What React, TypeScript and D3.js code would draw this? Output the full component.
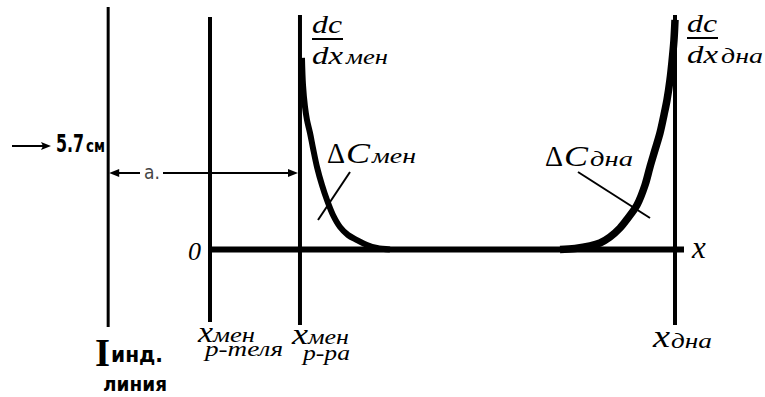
import React from "react";
import * as d3 from "d3";

// Positions (along the cell) of the vertical reference lines
const lineKeys = ["indicator", "solventMeniscus", "solutionMeniscus", "bottom"];
const lineX = [-21.9, 0, 19.35, 100];

// Concentration gradient dc/dx near the meniscus
const meniscusX = [19.78, 20.0, 20.43, 20.86, 21.51, 22.15, 23.01, 24.09, 25.16, 26.45, 27.96, 29.68, 31.61, 33.76, 35.91, 38.71];
const meniscusY = [83.3, 71.5, 62.0, 56.3, 50.65, 44.1, 35.9, 28.0, 21.5, 15.0, 9.8, 6.3, 4.1, 1.96, 0.65, 0];

// Concentration gradient dc/dx near the cell bottom
const bottomX = [75.27, 78.49, 81.72, 83.87, 86.02, 88.17, 89.89, 91.83, 93.55, 94.62, 95.7, 96.77, 97.63, 98.28, 98.92, 99.35, 99.78, 100];
const bottomY = [0, 0.43, 1.52, 2.83, 5.43, 9.35, 13.7, 19.35, 28.0, 35.9, 43.3, 50.65, 58.5, 65.0, 73.7, 81.5, 91.1, 99.8];

const W = 765;
const H = 397;

const x = d3.scaleLinear().domain([0, 100]).range([210, 675]);
const y = d3.scaleLinear().domain([0, 100]).range([249.5, 19.5]);

const lineTop = [7, 17, 15, 15];
const lineBottom = [327, 322, 325, 325];
const lineWidth = [3, 4, 4, 4];

const serif = "'Liberation Serif', 'Times New Roman', serif";
const hand = "'DejaVu Sans Condensed', 'DejaVu Sans', sans-serif";

const curve = d3
  .line<[number, number]>()
  .x((d) => x(d[0]))
  .y((d) => y(d[1]))
  .curve(d3.curveCatmullRom.alpha(0.5));

type Part = { t: string; x: number; y: number; s: number; w?: number; italic?: boolean };

// One text element built from positioned runs (symbol + subscript)
function Label({
  parts,
  family = serif,
  bold = false,
  fill = "#000",
}: {
  parts: Part[];
  family?: string;
  bold?: boolean;
  fill?: string;
}) {
  return (
    <text fontFamily={family} fontWeight={bold ? "bold" : "normal"} fill={fill}>
      {parts.map((p, i) => (
        <tspan
          key={i}
          x={p.x}
          y={p.y}
          fontSize={p.s}
          fontStyle={p.italic === false ? "normal" : "italic"}
          textLength={p.w}
          lengthAdjust={p.w ? "spacingAndGlyphs" : undefined}
        >
          {p.t}
        </tspan>
      ))}
    </text>
  );
}

function Fraction({ left, sub, top }: { left: number; sub: string; top: number }) {
  return (
    <g>
      <Label parts={[{ t: "dc", x: left, y: top + 15, s: 26, w: 30 }]} />
      <line x1={left} x2={left + 31} y1={top + 21} y2={top + 21} stroke="#000" strokeWidth={2} />
      <Label
        parts={[
          { t: "dx", x: left, y: top + 46, s: 26, w: 31 },
          { t: sub, x: left + 34, y: top + 46, s: 22, w: 42 },
        ]}
      />
    </g>
  );
}

export default function App() {
  const meniscus: [number, number][] = meniscusX.map((v, i) => [v, meniscusY[i]]);
  const bottom: [number, number][] = bottomX.map((v, i) => [v, bottomY[i]]);
  const xInd = x(lineX[0]);
  const xSol = x(lineX[2]);
  const arrowY = 173;

  return (
    <svg
      width={W}
      height={H}
      viewBox={`0 0 ${W} ${H}`}
      style={{ position: "absolute", left: 0, top: 0, background: "#fff" }}
    >
      <rect width={W} height={H} fill="#fff" />

      {/* vertical reference lines */}
      {lineKeys.map((k, i) => (
        <line
          key={k}
          x1={x(lineX[i])}
          x2={x(lineX[i])}
          y1={lineTop[i]}
          y2={lineBottom[i]}
          stroke="#000"
          strokeWidth={lineWidth[i]}
        />
      ))}

      {/* x axis */}
      <line x1={x(0)} x2={684} y1={y(0)} y2={y(0)} stroke="#000" strokeWidth={6} />

      {/* gradient curves */}
      <path d={curve(meniscus) ?? ""} fill="none" stroke="#000" strokeWidth={6} />
      <path d={curve(bottom) ?? ""} fill="none" stroke="#000" strokeWidth={7.5} />

      {/* leader lines */}
      <line x1={350} y1={172} x2={318} y2={220} stroke="#000" strokeWidth={2} />
      <line x1={578} y1={172} x2={650} y2={218} stroke="#000" strokeWidth={2} />

      {/* distance a between the indicator line and the solution meniscus */}
      <line x1={xInd + 8} x2={140} y1={arrowY} y2={arrowY} stroke="#000" strokeWidth={2} />
      <line x1={163} x2={xSol - 9} y1={arrowY} y2={arrowY} stroke="#000" strokeWidth={2} />
      <path d={`M${xInd + 1},${arrowY} L${xInd + 11},${arrowY - 4} L${xInd + 11},${arrowY + 4} Z`} fill="#000" />
      <path d={`M${xSol - 2},${arrowY} L${xSol - 12},${arrowY - 4} L${xSol - 12},${arrowY + 4} Z`} fill="#000" />
      <Label family={hand} fill="#444" parts={[{ t: "a.", x: 144, y: 179, s: 19, italic: false }]} />

      {/* 5.7 cm mark */}
      <line x1={12} x2={44} y1={146} y2={146} stroke="#000" strokeWidth={2} />
      <path d="M51,146 L41,142 L43,146 L41,150 Z" fill="#000" />
      <Label
        family={hand}
        bold
        parts={[
          { t: "5.7", x: 56, y: 152, s: 25, w: 28, italic: false },
          { t: "см", x: 86, y: 152, s: 17, w: 19, italic: false },
        ]}
      />

      {/* axis labels */}
      <Label parts={[{ t: "0", x: 188, y: 260, s: 26 }]} />
      <Label parts={[{ t: "x", x: 692, y: 258, s: 31 }]} />

      <Fraction left={312} top={18} sub="мен" />
      <Fraction left={687} top={17} sub="дна" />

      <Label
        parts={[
          { t: "Δ", x: 327, y: 163, s: 30, w: 18, italic: false },
          { t: "C", x: 346, y: 163, s: 30, w: 24 },
          { t: "мен", x: 372, y: 163, s: 22, w: 44 },
        ]}
      />
      <Label
        parts={[
          { t: "Δ", x: 545, y: 166, s: 30, w: 18, italic: false },
          { t: "C", x: 564, y: 166, s: 30, w: 24 },
          { t: "дна", x: 590, y: 166, s: 22, w: 43 },
        ]}
      />

      {/* bottom labels */}
      <Label
        parts={[
          { t: "x", x: 198, y: 342, s: 29, w: 15 },
          { t: "мен", x: 213, y: 342, s: 22, w: 42 },
          { t: "р-теля", x: 205, y: 356, s: 22, w: 78 },
        ]}
      />
      <Label
        parts={[
          { t: "x", x: 292, y: 344, s: 29, w: 16 },
          { t: "мен", x: 308, y: 344, s: 22, w: 41 },
          { t: "р-ра", x: 303, y: 360, s: 22, w: 47 },
        ]}
      />
      <Label
        parts={[
          { t: "x", x: 653, y: 347, s: 31, w: 17 },
          { t: "дна", x: 671, y: 348, s: 22, w: 41 },
        ]}
      />

      {/* indicator line label */}
      <Label
        bold
        parts={[{ t: "I", x: 95, y: 366, s: 40, w: 15, italic: false }]}
      />
      <Label
        family={hand}
        bold
        parts={[
          { t: "инд.", x: 111, y: 362, s: 22, w: 52, italic: false },
          { t: "линия", x: 103, y: 391, s: 19, w: 64, italic: false },
        ]}
      />
    </svg>
  );
}
